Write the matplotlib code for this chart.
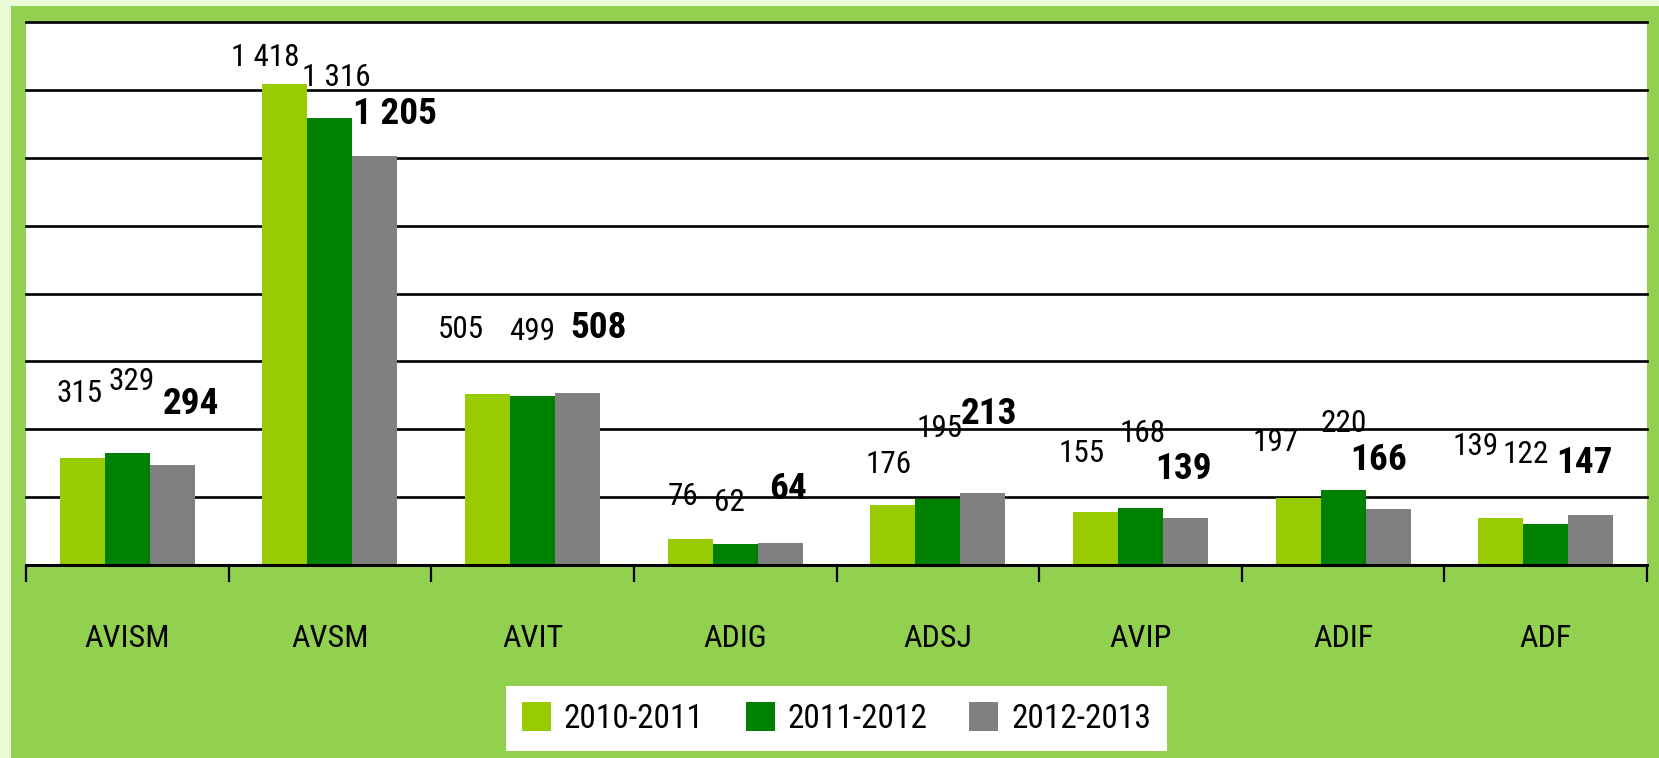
import os
import math
import matplotlib
matplotlib.use("Agg")
import matplotlib.pyplot as plt
import numpy as np
from matplotlib.patches import Rectangle
from matplotlib import font_manager as fm
from matplotlib.font_manager import FontProperties
from matplotlib.textpath import TextPath

# ---- data ----
categories = ["AVISM", "AVSM", "AVIT", "ADIG", "ADSJ", "AVIP", "ADIF", "ADF"]
series_names = ["2010-2011", "2011-2012", "2012-2013"]
v_2010_2011 = [315, 1418, 505, 76, 176, 155, 197, 139]
v_2011_2012 = [329, 1316, 499, 62, 195, 168, 220, 122]
v_2012_2013 = [294, 1205, 508, 64, 213, 139, 166, 147]
y_ticks = [0, 200, 400, 600, 800, 1000, 1200, 1400, 1600]

# ---- styles ----
colors = ["#99CC00", "#008000", "#808080"]
bg_green = "#92D050"
pale = "#E9FBD7"

# label offsets (pixels in reference display, relative to bar top centre)
lab_dx = [[-3, -19, -25, -7, -4, -13, -21, -24],
          [4, 6, 0, -5, 2, 2, 1, -19],
          [18, 19, 20, 7, 6, -2, -9, -6]]
lab_dy = [[61, 25, 61, 40, 39, 56, 53, 67],
          [68, 39, 61, 39, 66, 70, 63, 65],
          [58, 40, 61, 51, 74, 46, 46, 49]]

DPI = 100

# ---- find a condensed font ----
all_files = set(f.fname for f in fm.fontManager.ttflist)
try:
    all_files |= set(fm.findSystemFonts())
except Exception:
    pass


def norm(p):
    b = os.path.basename(p).lower()
    for ch in "-_ ":
        b = b.replace(ch, "")
    return b


def find(prefixes, bold):
    for pre in prefixes:
        cands = []
        for f in all_files:
            n = norm(f)
            if not n.startswith(pre):
                continue
            if not (n.endswith(".ttf") or n.endswith(".otf")):
                continue
            rest = n[len(pre):-4]
            if bold:
                if rest == "bold":
                    cands.append(f)
            else:
                if rest in ("", "regular"):
                    cands.append(f)
        if cands:
            return sorted(cands)[0]
    return None


PREFS = ["notosansextracondensed", "liberationsansnarrow", "robotocondensed",
         "opensanscondensed", "notosanscondensed", "dejavusanscondensed",
         "notosanssemicondensed", "opensanssemicondensed"]
reg_file = find(PREFS, False)
bold_file = find(PREFS, True)
if reg_file is None:
    reg_file = fm.findfont(FontProperties(family="DejaVu Sans"))
if bold_file is None:
    bold_file = fm.findfont(FontProperties(family="DejaVu Sans", weight="bold"))


def fit_size(fname, s, tw, th, wexp=0.5):
    tp = TextPath((0, 0), s, size=100, prop=FontProperties(fname=fname))
    e = tp.get_extents()
    k = DPI / 72.0 / 100.0
    sw = tw / (e.width * k)
    sh = th / (e.height * k)
    return sw ** wexp * sh ** (1 - wexp)


small_size = fit_size(reg_file, "1 418", 61, 24)
big_size = fit_size(bold_file, "1 205", 72, 30)
cat_size = fit_size(reg_file, "AVISM", 75, 29, 0.7)
leg_size = fit_size(reg_file, "2010-2011", 121, 30, 0.7)

fp_small = FontProperties(fname=reg_file, size=small_size)
fp_big = FontProperties(fname=bold_file, size=big_size)
fp_cat = FontProperties(fname=reg_file, size=cat_size)
fp_leg = FontProperties(fname=reg_file, size=leg_size)
lab_fp = [fp_small, fp_small, fp_big]


def fmt(v):
    return f"{v:,}".replace(",", " ")


W, H = 1659, 758
fig = plt.figure(figsize=(W / DPI, H / DPI), dpi=DPI)
fig.patch.set_facecolor(pale)
fig.add_artist(Rectangle((11 / W, 0), 1 - 11 / W, 1 - 6 / H, transform=fig.transFigure,
                         facecolor=bg_green, edgecolor="none", zorder=0))

ax = fig.add_axes([26 / W, 1 - 565 / H, (1647 - 26) / W, (565 - 22) / H])
ax.set_facecolor("white")

x = np.arange(len(categories))
bw = 0.222
series = [v_2010_2011, v_2011_2012, v_2012_2013]
scale = W / 1568
for i, (vals, c, name) in enumerate(zip(series, colors, series_names)):
    xs = x + (i - 1) * bw
    ax.bar(xs, vals, width=bw, color=c, label=name, zorder=3, linewidth=0)
    for j, (xx, v) in enumerate(zip(xs, vals)):
        ax.annotate(fmt(v), (xx, v), xytext=(lab_dx[i][j] * scale, lab_dy[i][j] * scale),
                    textcoords="offset pixels", ha="center", va="center",
                    fontproperties=lab_fp[i], color="black", zorder=5)

ax.set_xlim(-0.5, len(categories) - 0.5)
ax.set_ylim(y_ticks[0], y_ticks[-1])
ax.set_yticks(y_ticks)
ax.tick_params(axis="y", length=0, labelleft=False)
for yv in y_ticks[1:]:
    ax.axhline(yv, color="#A0A0A0", lw=1.0, zorder=1, clip_on=False)
    ax.axhline(yv, color="black", lw=1.9, zorder=2, clip_on=False)

for s in ["left", "right", "top"]:
    ax.spines[s].set_visible(False)
ax.spines["bottom"].set_color("black")
ax.spines["bottom"].set_linewidth(2.2)
ax.spines["bottom"].set_zorder(6)

ax.set_xticks(x)
ax.set_xticklabels(categories, fontproperties=fp_cat)
ax.set_xticks(np.arange(-0.5, len(categories)), minor=True)
ax.tick_params(axis="x", which="major", length=0, pad=42.5)
ax.tick_params(axis="x", which="minor", length=12, width=1.6, color="black", direction="out")

fs_px = leg_size * DPI / 72.0
leg = fig.legend(loc="center", bbox_to_anchor=(836.5 / W, 1 - 718.5 / H), ncol=3,
                 frameon=True, fancybox=False, facecolor="white", edgecolor="none",
                 framealpha=1, prop=fp_leg,
                 handlelength=29 / fs_px, handleheight=31 / fs_px,
                 handletextpad=13 / fs_px, columnspacing=42 / fs_px,
                 borderpad=16 / fs_px, borderaxespad=0)

fig.savefig("out.png", dpi=DPI, facecolor=fig.get_facecolor())
